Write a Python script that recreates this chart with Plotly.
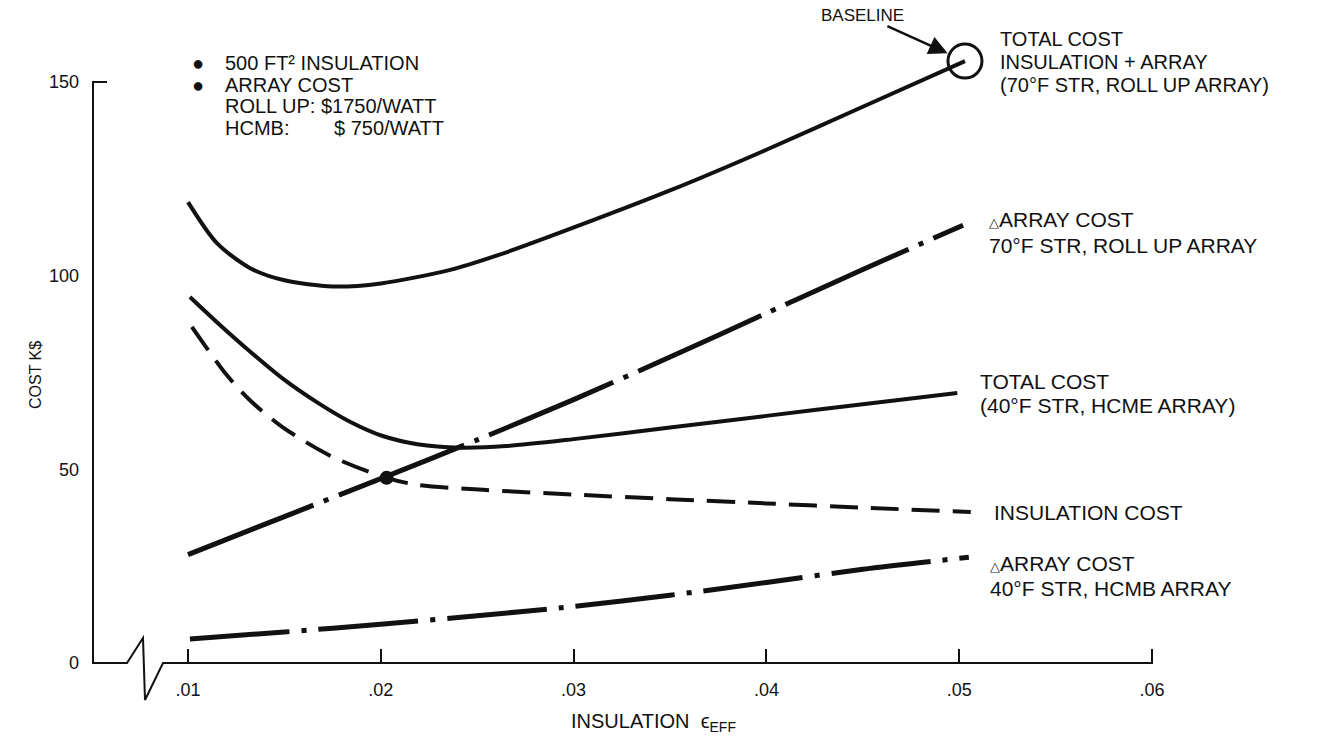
import plotly.graph_objects as go

# ---------------- data ----------------
# Total cost, insulation + array (70 F STR, roll up array)
eps_total_rollup = [0.0100, 0.0115, 0.0132, 0.0150, 0.0175, 0.0200, 0.0236, 0.0262, 0.0287,
                    0.0350, 0.0400, 0.0450, 0.0503]
cost_total_rollup = [119.0, 108.4, 102.0, 98.8, 97.2, 98.0, 101.5, 105.5, 110.0,
                     122.0, 132.5, 143.6, 155.4]

# Total cost (40 F STR, HCMB array)
eps_total_hcmb = [0.0101, 0.0115, 0.0132, 0.0149, 0.0167, 0.0184, 0.0201, 0.0219, 0.0241,
                  0.0265, 0.0300, 0.0350, 0.0400, 0.0450, 0.0499]
cost_total_hcmb = [94.5, 88.0, 80.5, 73.5, 67.3, 62.3, 58.6, 56.5, 55.6,
                   56.0, 57.8, 60.8, 63.8, 66.8, 69.7]

# Insulation cost
eps_insulation = [0.0102, 0.0120, 0.0132, 0.0149, 0.0175, 0.0203, 0.0219, 0.0253,
                  0.0300, 0.0350, 0.0400, 0.0450, 0.0506]
cost_insulation = [86.8, 74.4, 67.9, 60.9, 53.2, 47.8, 46.0, 44.7,
                   43.5, 42.3, 41.2, 40.1, 39.0]

# Delta array cost, 70 F STR, roll up array
eps_array_rollup = [0.0100, 0.0150, 0.0200, 0.0250, 0.0300, 0.0350, 0.0400, 0.0450, 0.0502]
cost_array_rollup = [28.0, 37.8, 47.6, 57.6, 68.0, 79.0, 90.3, 101.6, 113.0]

# Delta array cost, 40 F STR, HCMB array
eps_array_hcmb = [0.0101, 0.0150, 0.0200, 0.0250, 0.0300, 0.0350, 0.0400, 0.0450, 0.0505]
cost_array_hcmb = [6.2, 8.0, 10.0, 12.2, 14.6, 17.5, 20.8, 24.2, 27.3]

# Crossing of insulation cost and roll-up array cost
eps_cross = [0.0203]
cost_cross = [47.8]

# Baseline design point
eps_baseline = [0.0503]
cost_baseline = [155.4]

x_tick_vals = [0.01, 0.02, 0.03, 0.04, 0.05, 0.06]
x_tick_text = [".01", ".02", ".03", ".04", ".05", ".06"]
y_tick_vals = [0, 50, 100, 150]
y_tick_text = ["0", "50", "100", "150"]

# ---------------- geometry ----------------
W, H = 1317, 739
# pixel positions of two reference values on each axis
XA_PX, XA_VAL = 188, 0.01
XB_PX, XB_VAL = 1152, 0.06
YA_PX, YA_VAL = 663, 0.0
YB_PX, YB_VAL = 82, 150.0

x_per_px = (XB_VAL - XA_VAL) / (XB_PX - XA_PX)
y_per_px = (YB_VAL - YA_VAL) / (YA_PX - YB_PX)
x_range = [XA_VAL - XA_PX * x_per_px, XA_VAL + (W - XA_PX) * x_per_px]
y_range = [YA_VAL - (H - YA_PX) * y_per_px, YA_VAL + YA_PX * y_per_px]

Y_AXIS_PX = 93  # left edge of the frame


def px(x):
    return x / W


def py(y):
    return 1 - y / H


FONT = "Liberation Sans, Arial, Helvetica, sans-serif"
INK = "#111111"

fig = go.Figure()

fig.add_trace(go.Scatter(x=eps_total_rollup, y=cost_total_rollup, mode="lines",
                         line=dict(color=INK, width=4, shape="spline", smoothing=0.8),
                         name="Total cost, roll up"))
fig.add_trace(go.Scatter(x=eps_total_hcmb, y=cost_total_hcmb, mode="lines",
                         line=dict(color=INK, width=4, shape="spline", smoothing=0.8),
                         name="Total cost, HCMB"))
fig.add_trace(go.Scatter(x=eps_insulation, y=cost_insulation, mode="lines",
                         line=dict(color=INK, width=4, shape="spline", smoothing=0.8,
                                   dash="28px,13px"),
                         name="Insulation cost"))
fig.add_trace(go.Scatter(x=eps_array_rollup, y=cost_array_rollup, mode="lines",
                         line=dict(color=INK, width=5, shape="spline", smoothing=0.8,
                                   dash="135px,11px,5px,11px"),
                         name="Array cost, roll up"))
fig.add_trace(go.Scatter(x=eps_array_hcmb, y=cost_array_hcmb, mode="lines",
                         line=dict(color=INK, width=5, shape="spline", smoothing=0.8,
                                   dash="100px,12px,5px,12px"),
                         name="Array cost, HCMB"))
fig.add_trace(go.Scatter(x=eps_cross, y=cost_cross, mode="markers",
                         marker=dict(color=INK, size=14), name="Crossing"))
fig.add_trace(go.Scatter(x=eps_baseline, y=cost_baseline, mode="markers",
                         marker=dict(symbol="circle-open", color=INK, size=34,
                                     line=dict(width=3, color=INK)),
                         name="Baseline"))

# frame: vertical axis with corner at 150, horizontal axis with a break symbol
frame_path = (f"M {px(Y_AXIS_PX + 14)},{py(YB_PX)} L {px(Y_AXIS_PX)},{py(YB_PX)} "
              f"L {px(Y_AXIS_PX)},{py(YA_PX)} L {px(127)},{py(YA_PX)} "
              f"L {px(143)},{py(638)} L {px(145)},{py(700)} L {px(163)},{py(YA_PX)} "
              f"L {px(XB_PX)},{py(YA_PX)} L {px(XB_PX)},{py(650)}")
shapes = [dict(type="path", xref="paper", yref="paper", path=frame_path,
               line=dict(color=INK, width=2))]


def label(text, x, y, size=21, anchor="left"):
    return dict(text=text, x=px(x), y=py(y), xref="paper", yref="paper",
                xanchor=anchor, yanchor="middle", showarrow=False,
                font=dict(family=FONT, size=size, color=INK))


tri = "<span style='font-size:13px'>△</span>"
annotations = [
    label("●", 198, 63, 20, "center"),
    label("●", 198, 85, 20, "center"),
    label("500 FT² INSULATION", 223, 63, 20),
    label("ARRAY COST", 223, 85, 20),
    label("ROLL UP: $1750/WATT", 223, 106, 20),
    label("HCMB:", 223, 128, 20),
    label("$ 750/WATT", 332, 128, 20),
    label("TOTAL COST", 998, 39, 20),
    label("INSULATION + ARRAY", 998, 62, 20),
    label("(70°F STR, ROLL UP ARRAY)", 998, 85, 20),
    label(tri + "ARRAY COST", 987, 220),
    label("70°F STR, ROLL UP ARRAY", 987, 245),
    label("TOTAL COST", 978, 381),
    label("(40°F STR, HCME ARRAY)", 978, 405),
    label("INSULATION COST", 992, 512),
    label(tri + "ARRAY COST", 988, 563),
    label("40°F STR, HCMB ARRAY", 988, 588),
    label("INSULATION  ϵ<sub>EFF</sub>", 569, 722, 20),
    dict(text="COST K$", x=px(35), y=py(375), xref="paper", yref="paper",
         showarrow=False, textangle=-90, xanchor="center", yanchor="middle",
         font=dict(family=FONT, size=16, color=INK)),
    dict(text="BASELINE", x=eps_baseline[0], y=cost_baseline[0], xref="x", yref="y",
         ax=-102, ay=-46, axref="pixel", ayref="pixel", showarrow=True,
         arrowhead=2, arrowsize=1.5, arrowwidth=2.5, arrowcolor=INK, standoff=19,
         font=dict(family=FONT, size=17, color=INK)),
]

fig.update_layout(
    width=W, height=H,
    margin=dict(l=0, r=0, t=0, b=0),
    paper_bgcolor="white", plot_bgcolor="white",
    showlegend=False,
    font=dict(family=FONT, color=INK),
    xaxis=dict(range=x_range, domain=[0, 1], anchor="free", position=py(YA_PX),
               showline=False, showgrid=False, zeroline=False,
               ticks="inside", ticklen=14, tickwidth=2, tickcolor=INK,
               tickvals=x_tick_vals, ticktext=x_tick_text,
               tickfont=dict(family=FONT, size=18, color=INK), ticklabelstandoff=14),
    yaxis=dict(range=y_range, domain=[0, 1], anchor="free", position=px(Y_AXIS_PX),
               showline=False, showgrid=False, zeroline=False, ticks="",
               tickvals=y_tick_vals, ticktext=y_tick_text,
               tickfont=dict(family=FONT, size=18, color=INK), ticklabelstandoff=14),
    shapes=shapes,
    annotations=annotations,
)

fig.write_html("out.html")
